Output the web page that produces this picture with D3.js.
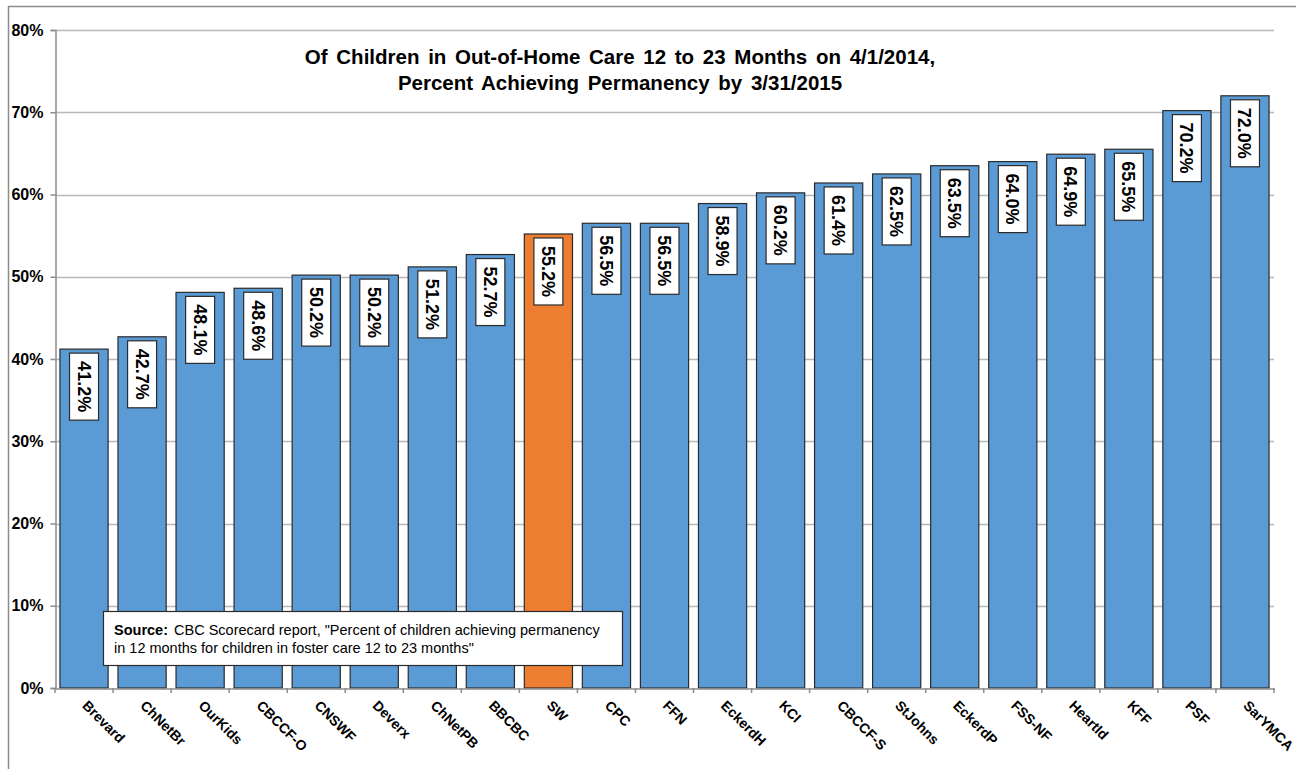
<!DOCTYPE html>
<html><head><meta charset="utf-8">
<script src="https://cdn.jsdelivr.net/npm/d3@7"></script>
<style>
html,body{margin:0;padding:0;background:#fff;}
svg{display:block;font-family:"Liberation Sans",Arial,sans-serif;}
</style></head>
<body><svg id="c" width="1296" height="769"></svg>
<script>
const categories = ["Brevard","ChNetBr","OurKids","CBCCF-O","CNSWF","Deverx","ChNetPB","BBCBC","SW","CPC","FFN","EckerdH","KCI","CBCCF-S","StJohns","EckerdP","FSS-NF","HeartId","KFF","PSF","SarYMCA"];
const values = [41.2,42.7,48.1,48.6,50.2,50.2,51.2,52.7,55.2,56.5,56.5,58.9,60.2,61.4,62.5,63.5,64.0,64.9,65.5,70.2,72.0];
const highlight = ["SW"];
const yTicks = [0,10,20,30,40,50,60,70,80];
const titleLines = ["Of Children in Out-of-Home Care 12 to 23 Months on 4/1/2014,","Percent Achieving Permanency by 3/31/2015"];
const sourceLabel = "Source:";
const sourceLines = ["CBC Scorecard report, \"Percent of children achieving permanency","in 12 months for children in foster care 12 to 23 months\""];

const svg = d3.select("#c");
const pL = 55, pR = 1274, pT = 30, pB = 688;
const x = d3.scaleBand().domain(categories).range([pL, pR]).paddingInner(0.17).paddingOuter(0.085);
const y = d3.scaleLinear().domain([0, 80]).range([pB, pT]);

// outer border
svg.append("rect").attr("x",8.5).attr("y",6.5).attr("width",1300).attr("height",800)
  .attr("fill","none").attr("stroke","#8c8c8c").attr("stroke-width",1.5);

// gridlines
svg.append("g").selectAll("line").data(yTicks.filter(d=>d>0)).join("line")
  .attr("x1",pL).attr("x2",pR).attr("y1",d=>Math.round(y(d))+0.5).attr("y2",d=>Math.round(y(d))+0.5)
  .attr("stroke","#b8b8b8").attr("stroke-width",1.5);

// y axis
const ya = svg.append("g").attr("transform",`translate(${pL+0.5},0)`)
  .call(d3.axisLeft(y).tickValues(yTicks).tickFormat(d=>d+"%").tickSize(5).tickPadding(7));
ya.select(".domain").attr("stroke","#8c8c8c").attr("stroke-width",1.5);
ya.selectAll(".tick line").attr("stroke","#8c8c8c").attr("stroke-width",1.5);
ya.selectAll(".tick text").attr("font-size",16).attr("font-weight","bold").attr("fill","#000")
  .attr("font-family","'Liberation Sans',Arial,sans-serif");

// bars
svg.append("g").selectAll("rect").data(categories).join("rect")
  .attr("x",d=>x(d)).attr("y",(d,i)=>y(values[i])).attr("width",x.bandwidth())
  .attr("height",(d,i)=>y(0)-y(values[i]))
  .attr("fill",d=>highlight.includes(d)?"#ED7D31":"#5B9BD5")
  .attr("stroke","#2b2b2b").attr("stroke-width",1.2);

// x axis
const xa = svg.append("g").attr("transform",`translate(0,${pB+0.5})`)
  .call(d3.axisBottom(x).tickSize(0).tickFormat(""));
xa.select(".domain").attr("stroke","#8c8c8c").attr("stroke-width",1.5);
const step = x.step();
svg.append("g").selectAll("line").data(d3.range(categories.length+1)).join("line")
  .attr("x1",i=>pL+i*step).attr("x2",i=>pL+i*step).attr("y1",pB).attr("y2",pB+5)
  .attr("stroke","#8c8c8c").attr("stroke-width",1.5);

svg.append("g").selectAll("text").data(categories).join("text")
  .attr("transform",d=>`translate(${x(d)+x.bandwidth()/2+1},${pB+15}) rotate(45)`)
  .attr("font-size",14).attr("font-weight","bold").attr("text-anchor","start")
  .attr("dy","0.35em").text(d=>d);

// value labels
const lg = svg.append("g").selectAll("g").data(categories).join("g")
  .attr("transform",(d,i)=>`translate(${x(d)+x.bandwidth()/2},${y(values[i])+4})`);
lg.append("rect").attr("x",-14.5).attr("y",0).attr("width",29).attr("height",67)
  .attr("fill","#fff").attr("stroke","#2b2b2b").attr("stroke-width",1.2);
lg.append("text").attr("transform","translate(0,33.5) rotate(90)")
  .attr("text-anchor","middle").attr("dy","0.36em").attr("font-size",18).attr("font-weight","bold")
  .text((d,i)=>values[i].toFixed(1)+"%");

// title
svg.append("g").selectAll("text").data(titleLines).join("text")
  .attr("x",620).attr("y",(d,i)=>64+i*26).attr("text-anchor","middle")
  .attr("font-size",20.5).attr("font-weight","bold").attr("word-spacing",3).text(d=>d);

// source box
svg.append("rect").attr("x",103.5).attr("y",611.5).attr("width",519).attr("height",54)
  .attr("fill","#fff").attr("stroke","#2b2b2b").attr("stroke-width",1.2);
const st = svg.append("text").attr("x",114).attr("y",635).attr("font-size",14.5);
st.append("tspan").attr("font-weight","bold").text(sourceLabel);
st.append("tspan").attr("dx",6).text(sourceLines[0]);
svg.append("text").attr("x",114).attr("y",653).attr("font-size",14.5).text(sourceLines[1]);
</script></body></html>
